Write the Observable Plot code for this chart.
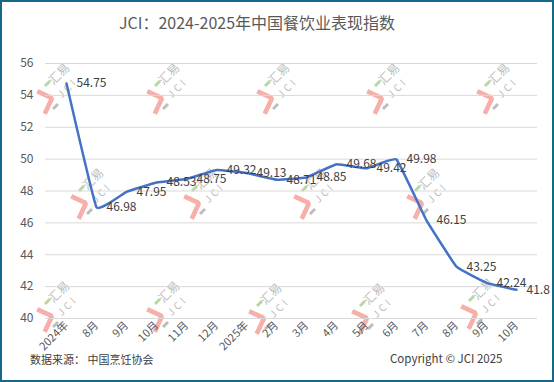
<!DOCTYPE html>
<html><head><meta charset="utf-8">
<script src="https://cdn.jsdelivr.net/npm/d3@7"></script>
<script src="https://cdn.jsdelivr.net/npm/@observablehq/plot@0.6"></script>
<style>
body{margin:0;background:#fff;font-family:"Noto Sans CJK SC","Noto Sans",sans-serif;}
#wrap{position:relative;width:554px;height:382px;overflow:hidden;background:#fff;}
#frame{position:absolute;left:0;top:0;width:554px;height:382px;box-sizing:border-box;border:2px solid #17678a;pointer-events:none;z-index:5}
#title{position:relative;z-index:2;height:45px;width:514px;text-align:center;font-size:16px;color:#595959;line-height:45px;}
#chart{position:relative;z-index:1;}
#chart svg{display:block;}
#wm{position:absolute;left:0;top:0;width:554px;height:382px;z-index:0;}
.logo{position:absolute;width:0;height:0;}
.hook{position:absolute;left:0;top:2px;width:14px;height:15px;border-top:5px solid #f6b0a9;border-right:5px solid #f6b0a9;border-top-right-radius:5px;transform:rotate(25deg);}
.wt{position:absolute;color:#bdbdbd;white-space:nowrap;transform:translate(-50%,-50%) rotate(-45deg);}
.dash{position:absolute;width:7px;height:3px;transform:rotate(-45deg);}
.src{position:absolute;left:30px;top:350px;height:18px;line-height:18px;font-size:11px;color:#404040;z-index:2}
.copy{position:absolute;left:390px;top:349px;height:18px;line-height:18px;font-size:11.5px;color:#404040;z-index:2}
</style></head>
<body>
<div id="wrap">
  <div id="wm"></div>
  <div id="title">JCI：2024-2025年中国餐饮业表现指数</div>
  <div id="chart"></div>
  <div class="src">数据来源：&nbsp;中国烹饪协会</div>
  <div class="copy">Copyright © JCI 2025</div>
  <div id="frame"></div>
</div>
<script>
// Data
const months = ["2024年","8月","9月","10月","11月","12月","2025年","2月","3月","4月","5月","6月","7月","8月","9月","10月"];
const jci = [54.75,46.98,47.95,48.53,48.75,49.32,49.13,48.71,48.85,49.68,49.42,49.98,46.15,43.25,42.24,41.8];
const yTicks = [40,42,44,46,48,50,52,54,56];

const data = months.map((m, i) => ({i, m, v: jci[i]}));
const font = '"Noto Sans CJK SC","Noto Sans",sans-serif';

const chart = Plot.plot({
  width: 554, height: 310,
  marginTop: 18, marginBottom: 37, marginLeft: 45, marginRight: 17,
  style: {background: "transparent", fontFamily: font, fontSize: "12px", color: "#595959", overflow: "visible"},
  x: {type: "point", domain: d3.range(months.length), padding: 0.5, axis: null, label: null},
  y: {domain: [40, 56], axis: null, label: null},
  marks: [
    Plot.gridY(yTicks, {stroke: "#d9d9d9", strokeOpacity: 1, strokeWidth: 1}),
    Plot.axisY(yTicks, {tickSize: 0, tickPadding: 12, fontSize: 12, fill: "#595959", label: null}),
    Plot.axisX({tickSize: 0, tickRotate: -45, tickPadding: 5, tickFormat: i => months[i], fontSize: 11, fill: "#595959", label: null}),
    Plot.line(data, {x: "i", y: "v", stroke: "#4472C4", strokeWidth: 2.5, curve: "cardinal", tension: 0.75}),
    Plot.text(data, {x: "i", y: "v", text: d => String(d.v), textAnchor: "start", dx: 10, fill: "#404040", fontSize: 12})
  ]
});
document.getElementById("chart").appendChild(chart);

// Decorative watermark logos (not data)
const wmPos = [[33,90],[143,90],[253,90],[363,90],[473,90],
               [67,195],[180,195],[290,195],[403,195],
               [33,308],[143,308],[245,310],[348,310],[457,305]];
const wm = document.getElementById("wm");
for (const [x, y] of wmPos) {
  const g = document.createElement("div");
  g.className = "logo";
  g.style.left = x + "px"; g.style.top = y + "px";
  g.innerHTML =
    '<div class="hook"></div>' +
    '<div class="dash" style="left:11px;top:-8px;background:#b5d9a0"></div>' +
    '<div class="dash" style="left:19px;top:15px;background:#bdbdbd"></div>' +
    '<div class="wt" style="left:25px;top:-17px;font-size:12px">汇易</div>' +
    '<div class="wt" style="left:34px;top:-3px;font-size:10px;letter-spacing:3px">JCI</div>';
  wm.appendChild(g);
}
</script>
</body></html>
